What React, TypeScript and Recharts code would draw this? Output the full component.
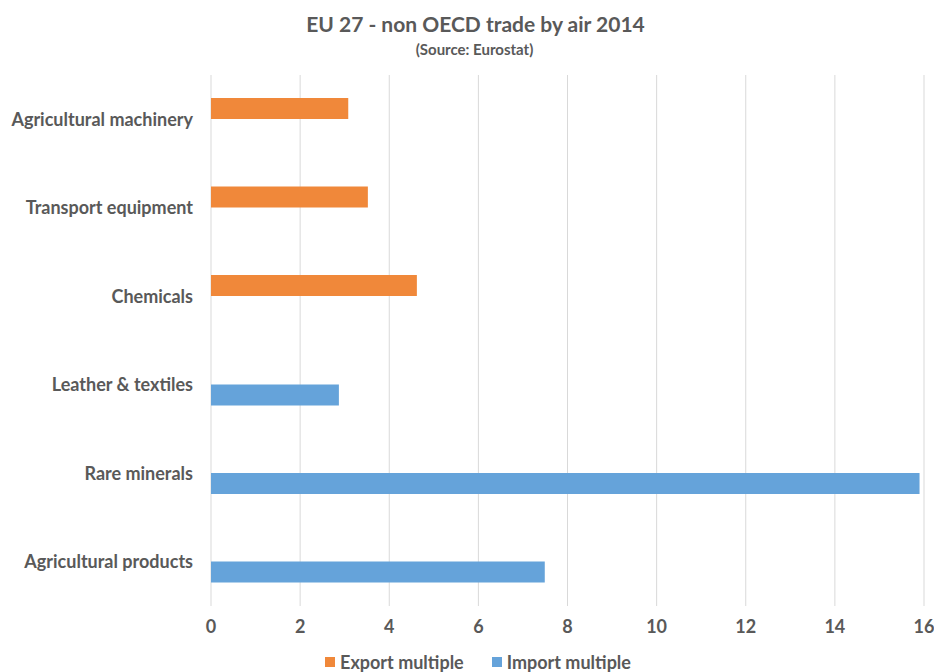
import React from 'react';
import { BarChart, Bar, XAxis, YAxis, CartesianGrid, Legend } from 'recharts';

const categories = [
  'Agricultural machinery',
  'Transport equipment',
  'Chemicals',
  'Leather & textiles',
  'Rare minerals',
  'Agricultural products',
];
const exportMultiple: (number | null)[] = [3.08, 3.52, 4.62, null, null, null];
const importMultiple: (number | null)[] = [null, null, null, 2.87, 15.9, 7.49];
const xTicks = [0, 2, 4, 6, 8, 10, 12, 14, 16];

const data = categories.map((name, i) => ({
  name,
  exp: exportMultiple[i],
  imp: importMultiple[i],
}));

const FONT = 'Lato, "Open Sans", sans-serif';
const GRAY = '#595959';
const ORANGE = '#F0883A';
const BLUE = '#65A3DA';

const LegendContent = () => (
  <div
    style={{
      height: 22,
      lineHeight: '22px',
      display: 'flex',
      justifyContent: 'center',
      fontFamily: FONT,
      fontWeight: 700,
      fontSize: 18,
      color: GRAY,
      paddingLeft: 32,
      transform: 'translateY(1px)',
    }}
  >
    <span style={{ display: 'inline-flex', alignItems: 'center', marginRight: 28 }}>
      <span style={{ width: 10, height: 10, background: ORANGE, display: 'inline-block', marginRight: 5 }} />
      Export multiple
    </span>
    <span style={{ display: 'inline-flex', alignItems: 'center' }}>
      <span style={{ width: 10, height: 10, background: BLUE, display: 'inline-block', marginRight: 5 }} />
      Import multiple
    </span>
  </div>
);

export default function App() {
  return (
    <div style={{ position: 'absolute', left: 0, top: 0, width: 934, height: 672, background: '#fff' }}>
      <div
        style={{
          position: 'absolute',
          left: 0,
          width: 951,
          top: 11,
          textAlign: 'center',
          fontFamily: FONT,
          fontWeight: 700,
          fontSize: 21,
          color: GRAY,
          lineHeight: '26px',
        }}
      >
        EU 27 - non OECD trade by air 2014
      </div>
      <div
        style={{
          position: 'absolute',
          left: 0,
          width: 949,
          top: 40,
          textAlign: 'center',
          fontFamily: FONT,
          fontWeight: 700,
          fontSize: 15,
          color: GRAY,
          lineHeight: '18px',
        }}
      >
        (Source: Eurostat)
      </div>
      <BarChart
        width={934}
        height={672}
        data={data}
        layout="vertical"
        margin={{ top: 75, right: 10, bottom: 0, left: 0 }}
        barSize={21}
        barGap={0}
      >
        <CartesianGrid horizontal={false} vertical={true} stroke="#D9D9D9" />
        <XAxis
          type="number"
          domain={[0, 16]}
          ticks={xTicks}
          axisLine={false}
          tickLine={false}
          tickSize={0}
          tickMargin={14}
          height={44}
          tick={{ fill: GRAY, fontSize: 18, fontWeight: 700, fontFamily: FONT }}
        />
        <YAxis
          type="category"
          dataKey="name"
          width={211}
          axisLine={false}
          tickLine={false}
          tickSize={0}
          tickMargin={18}
          tick={{ fill: GRAY, fontSize: 18, fontWeight: 700, fontFamily: FONT }}
        />
        <Legend verticalAlign="bottom" content={<LegendContent />} />
        <Bar dataKey="exp" name="Export multiple" fill={ORANGE} isAnimationActive={false} />
        <Bar dataKey="imp" name="Import multiple" fill={BLUE} isAnimationActive={false} />
      </BarChart>
    </div>
  );
}
